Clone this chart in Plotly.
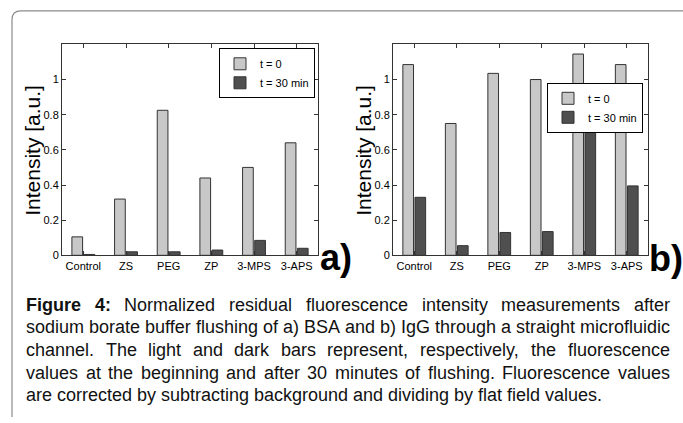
import plotly.graph_objects as go

W, H = 683, 423

categories = ["Control", "ZS", "PEG", "ZP", "3-MPS", "3-APS"]
bsa_t0 = [0.105, 0.32, 0.825, 0.44, 0.50, 0.64]
bsa_t30 = [0.005, 0.02, 0.02, 0.03, 0.085, 0.04]
igg_t0 = [1.085, 0.75, 1.035, 1.0, 1.145, 1.085]
igg_t30 = [0.33, 0.055, 0.13, 0.135, 0.725, 0.395]
series_names = ["t = 0", "t = 30 min"]
ytick_vals = [0, 0.2, 0.4, 0.6, 0.8, 1.0]
ytick_text = ["0", "0.2", "0.4", "0.6", "0.8", "1"]

caption_lines = [
    [("Figure", True), ("4:", True), ("Normalized", False), ("residual", False),
     ("fluorescence", False), ("intensity", False), ("measurements", False), ("after", False)],
    [(w, False) for w in "sodium borate buffer flushing of a) BSA and b) IgG through a straight microfluidic".split()],
    [(w, False) for w in "channel. The light and dark bars represent, respectively, the fluorescence".split()],
    [(w, False) for w in "values at the beginning and after 30 minutes of flushing. Fluorescence values".split()],
    [(w, False) for w in "are corrected by subtracting background and dividing by flat field values.".split()],
]


def X(px):
    return px / W


def Y(py):
    return 1 - py / H


LIGHT = "#c8c8c8"
DARK = "#4f4f4f"
EDGE = "#333333"
FONT = "Arial"

fig = go.Figure()
for (t0, t30, xa, ya, lg) in [(bsa_t0, bsa_t30, "x", "y", "legend"),
                              (igg_t0, igg_t30, "x2", "y2", "legend2")]:
    fig.add_trace(go.Bar(x=categories, y=t0, name=series_names[0], xaxis=xa, yaxis=ya,
                         marker=dict(color=LIGHT, line=dict(color=EDGE, width=1)), legend=lg))
    fig.add_trace(go.Bar(x=categories, y=t30, name=series_names[1], xaxis=xa, yaxis=ya,
                         marker=dict(color=DARK, line=dict(color=EDGE, width=1)), legend=lg))

xcommon = dict(type="category", range=[-0.5, 5.5], showline=True, linecolor=EDGE, linewidth=1,
               mirror="ticks", ticks="inside", ticklen=4, tickcolor=EDGE, showgrid=False,
               tickfont=dict(family=FONT, size=11, color="black"), fixedrange=True)
ycommon = dict(range=[0, 1.2], tickvals=ytick_vals, ticktext=ytick_text, showline=True,
               linecolor=EDGE, linewidth=1, mirror="ticks", ticks="inside", ticklen=4,
               tickcolor=EDGE, showgrid=False, zeroline=False,
               tickfont=dict(family=FONT, size=11, color="black"), fixedrange=True)

legcommon = dict(xanchor="right", yanchor="top", bgcolor="white", bordercolor="black",
                 borderwidth=1, font=dict(family=FONT, size=11, color="black"),
                 tracegroupgap=0, itemwidth=30, itemclick=False, itemdoubleclick=False)

fig.update_layout(
    width=W, height=H, margin=dict(l=0, r=0, t=0, b=0),
    paper_bgcolor="white", plot_bgcolor="white",
    font=dict(family=FONT),
    barmode="group", bargap=0.43, bargroupgap=0.12,
    xaxis=dict(domain=[X(62), X(318)], anchor="y", **xcommon),
    yaxis=dict(domain=[Y(259), Y(45)], anchor="x", **ycommon),
    xaxis2=dict(domain=[X(393), X(648)], anchor="y2", **xcommon),
    yaxis2=dict(domain=[Y(259), Y(45)], anchor="x2", **ycommon),
    legend=dict(x=X(315), y=Y(49), **legcommon),
    legend2=dict(x=X(643), y=Y(84), **legcommon),
    showlegend=True,
)

ann = []
# y-axis titles
for cx in (33, 364):
    ann.append(dict(text="Intensity [a.u.]", x=X(cx), y=Y(153), xref="paper", yref="paper",
                    textangle=-90, showarrow=False, xanchor="center", yanchor="middle",
                    font=dict(family=FONT, size=21, color="black")))
# panel labels
for lab, cx, cy in (("a)", 336, 261), ("b)", 666, 262)):
    ann.append(dict(text="<b>%s</b>" % lab, x=X(cx), y=Y(cy), xref="paper", yref="paper",
                    showarrow=False, xanchor="center", yanchor="middle",
                    font=dict(family=FONT, size=36, color="black")))

# caption: justified text using Arial/Helvetica metrics
REG = {" ": 278, "(": 333, ")": 333, ",": 278, "-": 333, ".": 278, ":": 278, ";": 278,
       "A": 667, "B": 667, "C": 722, "D": 722, "E": 667, "F": 611, "G": 778, "H": 722,
       "I": 278, "J": 500, "K": 667, "L": 556, "M": 833, "N": 722, "O": 778, "P": 667,
       "Q": 778, "R": 722, "S": 667, "T": 611, "U": 722, "V": 667, "W": 944, "X": 667,
       "Y": 667, "Z": 611, "a": 556, "b": 556, "c": 500, "d": 556, "e": 556, "f": 278,
       "g": 556, "h": 556, "i": 222, "j": 222, "k": 500, "l": 222, "m": 833, "n": 556,
       "o": 556, "p": 556, "q": 556, "r": 333, "s": 500, "t": 278, "u": 556, "v": 500,
       "w": 722, "x": 500, "y": 500, "z": 500}
for d in "0123456789":
    REG[d] = 556
BOLD = {"F": 611, "i": 278, "g": 611, "u": 611, "r": 389, "e": 556, "4": 556, ":": 333, " ": 278}

CAP_SIZE = 18
LEFT, RIGHT = 26, 670
line_y = [309, 332, 355, 378, 401]


def wwidth(word, bold):
    tbl = BOLD if bold else REG
    return sum(tbl.get(c, 556) for c in word) / 1000 * CAP_SIZE


for li, words in enumerate(caption_lines):
    widths = [wwidth(w, b) for w, b in words]
    last = li == len(caption_lines) - 1
    natural = REG[" "] / 1000 * CAP_SIZE
    if last:
        gap = natural
    else:
        gap = max((RIGHT - LEFT - sum(widths)) / (len(words) - 1), natural * 0.6)
    xpos = LEFT
    for (w, b), wd in zip(words, widths):
        ann.append(dict(text=("<b>%s</b>" % w) if b else w, x=X(xpos), y=Y(line_y[li]),
                        xref="paper", yref="paper", showarrow=False, xanchor="left",
                        yanchor="middle", borderpad=0, borderwidth=0,
                        font=dict(family=FONT, size=CAP_SIZE, color="#111111")))
        xpos += wd + gap

fig.update_layout(annotations=ann)

# page frame with rounded top-left corner
path = "M %f,%f L %f,%f Q %f,%f %f,%f L %f,%f" % (
    X(12), Y(423), X(12), Y(20), X(12), Y(11), X(21), Y(11), X(683), Y(11))
fig.add_shape(type="path", path=path, xref="paper", yref="paper",
              line=dict(color="#8c8c8c", width=1.2))

fig.write_html("out.html")
